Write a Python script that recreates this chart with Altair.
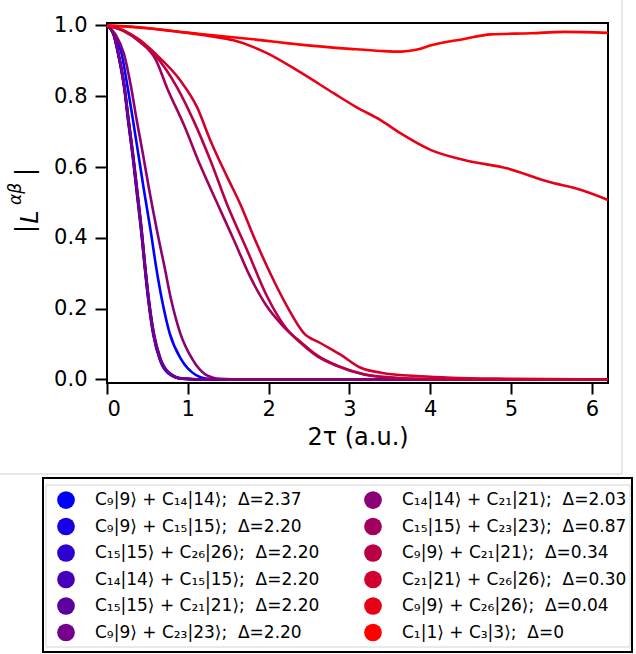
import altair as alt
import pandas as pd

# 2τ (a.u.) sample points and |L^{αβ}| values for each superposition
x_fast = [0, 0.08, 0.14, 0.215, 0.265, 0.32, 0.365, 0.43, 0.47, 0.515, 0.575, 0.66, 0.76, 0.93, 1.2, 2.0, 3.0, 4.0, 5.0, 6.2]

x_9_14 = [0, 0.09, 0.18, 0.255, 0.322, 0.386, 0.45, 0.545, 0.607, 0.68, 0.775, 0.92, 1.09, 1.25, 1.5, 2.0, 3.0, 4.0, 5.0, 6.2]
y_9_14 = [1.0, 0.976, 0.92, 0.826, 0.732, 0.639, 0.545, 0.413, 0.319, 0.225, 0.131, 0.056, 0.014, 0.002, 0, 0, 0, 0, 0, 0]

y_9_15 = [1.0, 0.975, 0.917, 0.820, 0.724, 0.626, 0.535, 0.403, 0.310, 0.217, 0.124, 0.052, 0.017, 0.002, 0, 0, 0, 0, 0, 0]
y_15_26 = [1.0, 0.976, 0.919, 0.823, 0.728, 0.630, 0.540, 0.408, 0.314, 0.221, 0.127, 0.054, 0.018, 0.002, 0, 0, 0, 0, 0, 0]
y_14_15 = [1.0, 0.977, 0.921, 0.828, 0.735, 0.638, 0.549, 0.417, 0.323, 0.229, 0.133, 0.058, 0.020, 0.002, 0, 0, 0, 0, 0, 0]
y_15_21 = [1.0, 0.977, 0.922, 0.830, 0.738, 0.641, 0.552, 0.420, 0.326, 0.232, 0.136, 0.060, 0.021, 0.003, 0, 0, 0, 0, 0, 0]
y_9_23 = [1.0, 0.976, 0.920, 0.826, 0.732, 0.635, 0.545, 0.413, 0.319, 0.225, 0.130, 0.056, 0.019, 0.002, 0, 0, 0, 0, 0, 0]

x_14_21 = [0, 0.1, 0.21, 0.298, 0.368, 0.443, 0.515, 0.625, 0.711, 0.794, 0.906, 1.06, 1.22, 1.4, 1.7, 2.0, 3.0, 4.0, 5.0, 6.2]
y_14_21 = [1.0, 0.976, 0.92, 0.826, 0.732, 0.639, 0.545, 0.413, 0.319, 0.225, 0.131, 0.056, 0.014, 0.002, 0, 0, 0, 0, 0, 0]

x_15_23 = [0, 0.2, 0.4, 0.6, 0.75, 0.95, 1.15, 1.36, 1.57, 1.77, 1.98, 2.15, 2.35, 2.6, 2.85, 3.18, 3.5, 4.0, 5.0, 6.2]
y_15_23 = [1.0, 0.985, 0.955, 0.905, 0.82, 0.72, 0.607, 0.5, 0.394, 0.291, 0.206, 0.158, 0.113, 0.066, 0.038, 0.014, 0.005, 0.001, 0, 0]

x_9_21 = [0, 0.2, 0.4, 0.6, 0.865, 1.07, 1.278, 1.485, 1.733, 1.98, 2.23, 2.4, 2.6, 2.85, 3.18, 3.5, 4.0, 5.0, 6.2]
y_9_21 = [1.0, 0.986, 0.957, 0.915, 0.826, 0.732, 0.62, 0.495, 0.366, 0.235, 0.141, 0.105, 0.068, 0.039, 0.015, 0.006, 0.001, 0, 0]

x_21_26 = [0, 0.2, 0.4, 0.6, 0.906, 1.113, 1.278, 1.485, 1.65, 1.815, 2.02, 2.23, 2.436, 2.64, 2.89, 3.14, 3.39, 3.88, 4.26, 5.0, 6.2]
y_21_26 = [1.0, 0.987, 0.96, 0.92, 0.845, 0.77, 0.676, 0.573, 0.495, 0.404, 0.30, 0.206, 0.131, 0.103, 0.07, 0.033, 0.019, 0.009, 0.005, 0.002, 0.0]

x_9_26 = [0, 0.3, 0.74, 1.0, 1.28, 1.567, 1.98, 2.39, 2.81, 3.08, 3.39, 3.635, 4.01, 4.42, 4.96, 5.455, 5.87, 6.2]
y_9_26 = [1.0, 0.997, 0.986, 0.979, 0.97, 0.958, 0.922, 0.868, 0.808, 0.77, 0.732, 0.695, 0.648, 0.62, 0.596, 0.559, 0.535, 0.507]

x_1_3 = [0, 0.5, 1.154, 1.774, 2.39, 3.01, 3.39, 3.635, 3.84, 4.01, 4.42, 4.75, 5.25, 5.66, 6.2]
y_1_3 = [1.0, 0.992, 0.976, 0.962, 0.946, 0.934, 0.928, 0.926, 0.932, 0.944, 0.962, 0.975, 0.978, 0.982, 0.979]

NB = "\u00a0"
labels = [
    f"C₉|9⟩ + C₁₄|14⟩;{NB} Δ=2.37",
    f"C₉|9⟩ + C₁₅|15⟩;{NB} Δ=2.20",
    f"C₁₅|15⟩ + C₂₆|26⟩;{NB} Δ=2.20",
    f"C₁₄|14⟩ + C₁₅|15⟩;{NB} Δ=2.20",
    f"C₁₅|15⟩ + C₂₁|21⟩;{NB} Δ=2.20",
    f"C₉|9⟩ + C₂₃|23⟩;{NB} Δ=2.20",
    f"C₁₄|14⟩ + C₂₁|21⟩;{NB} Δ=2.03",
    f"C₁₅|15⟩ + C₂₃|23⟩;{NB} Δ=0.87",
    f"C₉|9⟩ + C₂₁|21⟩;{NB} Δ=0.34",
    f"C₂₁|21⟩ + C₂₆|26⟩;{NB} Δ=0.30",
    f"C₉|9⟩ + C₂₆|26⟩;{NB} Δ=0.04",
    f"C₁|1⟩ + C₃|3⟩;{NB} Δ=0",
]

# blue -> red ramp over the twelve superpositions
palette = ["#0000ff", "#1700e8", "#2e00d1", "#4600b9", "#5d00a2", "#74008b",
           "#8b0074", "#a2005d", "#b90046", "#d1002e", "#e80017", "#ff0000"]

series = [
    (x_9_14, y_9_14),
    (x_fast, y_9_15),
    (x_fast, y_15_26),
    (x_fast, y_14_15),
    (x_fast, y_15_21),
    (x_fast, y_9_23),
    (x_14_21, y_14_21),
    (x_15_23, y_15_23),
    (x_9_21, y_9_21),
    (x_21_26, y_21_26),
    (x_9_26, y_9_26),
    (x_1_3, y_1_3),
]

rows = []
for k, (xs, ys) in enumerate(series):
    for x, y in zip(xs, ys):
        rows.append({"series": labels[k], "k": k, "tau": x, "L": y})
df = pd.DataFrame(rows)

color_scale = alt.Scale(domain=labels, range=palette)

W, H = 501, 360
PL, PT = 107, 23

x_enc = alt.X("tau:Q",
              scale=alt.Scale(domain=[0, 6.2], nice=False, zero=False),
              axis=alt.Axis(values=[0, 1, 2, 3, 4, 5, 6], format="d",
                            title="2τ (a.u.)", titleFontSize=24,
                            titleFontWeight="normal", titlePadding=6,
                            labelPadding=4, tickSize=11))
y_enc = alt.Y("L:Q",
              scale=alt.Scale(domain=[-0.01, 1.007], nice=False, zero=False),
              axis=alt.Axis(values=[0, 0.2, 0.4, 0.6, 0.8, 1.0], format=".1f",
                            title="", labelPadding=8, tickSize=12))

legend = alt.Legend(
    title="", orient="none", legendX=-50, legendY=468, padding=0,
    columns=2, columnPadding=44, rowPadding=8.5, gridAlign="each",
    symbolType="circle", symbolSize=314, symbolOpacity=1, symbolStrokeWidth=0,
    labelFont="DejaVu Sans", labelFontSize=17, labelColor="black",
    labelLimit=500, labelOffset=20,
)

legend_keys = alt.Chart(df).mark_point(filled=True, size=0, opacity=1).encode(
    x=x_enc, y=y_enc,
    color=alt.Color("series:N", scale=color_scale, legend=legend),
)

lines = alt.Chart(df).mark_line(interpolate="monotone", strokeWidth=2.6).encode(
    x="tau:Q", y="L:Q",
    color=alt.Color("series:N", scale=color_scale),
)

one = alt.Data(values=[{"a": 0}])

# y-axis label |L^{αβ}| assembled from rotated pieces
ybar_lo = alt.Chart(one).mark_text(text="|", angle=270, fontSize=24, align="center", baseline="middle", color="black").encode(
    x=alt.value(26 - PL), y=alt.value(229 - PT))
ylet = alt.Chart(one).mark_text(text="L", angle=270, fontSize=24, fontStyle="italic", align="center", baseline="middle", color="black").encode(
    x=alt.value(31 - PL), y=alt.value(217 - PT))
ysup = alt.Chart(one).mark_text(text="αβ", angle=270, fontSize=17, fontStyle="italic", align="center", baseline="middle", color="black").encode(
    x=alt.value(16 - PL), y=alt.value(194 - PT))
ybar_hi = alt.Chart(one).mark_text(text="|", angle=270, fontSize=24, align="center", baseline="middle", color="black").encode(
    x=alt.value(26 - PL), y=alt.value(172 - PT))

# thin grey figure edges and the legend frame
edge_v = alt.Chart(one).mark_rule(color="#cfcfcf", strokeWidth=1).encode(
    x=alt.value(622 - PL), y=alt.value(0 - PT), y2=alt.value(474 - PT))
edge_h = alt.Chart(one).mark_rule(color="#cfcfcf", strokeWidth=1).encode(
    x=alt.value(0 - PL), x2=alt.value(622 - PL), y=alt.value(474 - PT))
frame_inner = alt.Chart(one).mark_rect(filled=False, color="#d4d4d4", strokeWidth=1).encode(
    x=alt.value(46 - PL), x2=alt.value(630 - PL), y=alt.value(485 - PT), y2=alt.value(647 - PT))
frame_outer = alt.Chart(one).mark_rect(filled=False, color="black", strokeWidth=2).encode(
    x=alt.value(43 - PL), x2=alt.value(632 - PL), y=alt.value(478 - PT), y2=alt.value(652 - PT))

chart = alt.layer(
    legend_keys, lines, ybar_lo, ylet, ysup, ybar_hi,
    edge_v, edge_h, frame_inner, frame_outer,
).properties(
    width=W, height=H,
    autosize=alt.AutoSizeParams(type="none"),
    padding={"left": PL, "top": PT, "right": 636 - PL - W, "bottom": 654 - PT - H},
).configure(
    font="DejaVu Sans",
    background="white",
).configure_view(
    stroke="black", strokeWidth=2,
).configure_axis(
    grid=False, domain=False, ticks=True,
    tickColor="black", tickWidth=2, tickSize=12,
    labelFont="DejaVu Sans", labelFontSize=21, labelColor="black",
    titleFont="DejaVu Sans", titleColor="black",
)

chart.save("out.html", embed_options={"renderer": "svg", "actions": False})
